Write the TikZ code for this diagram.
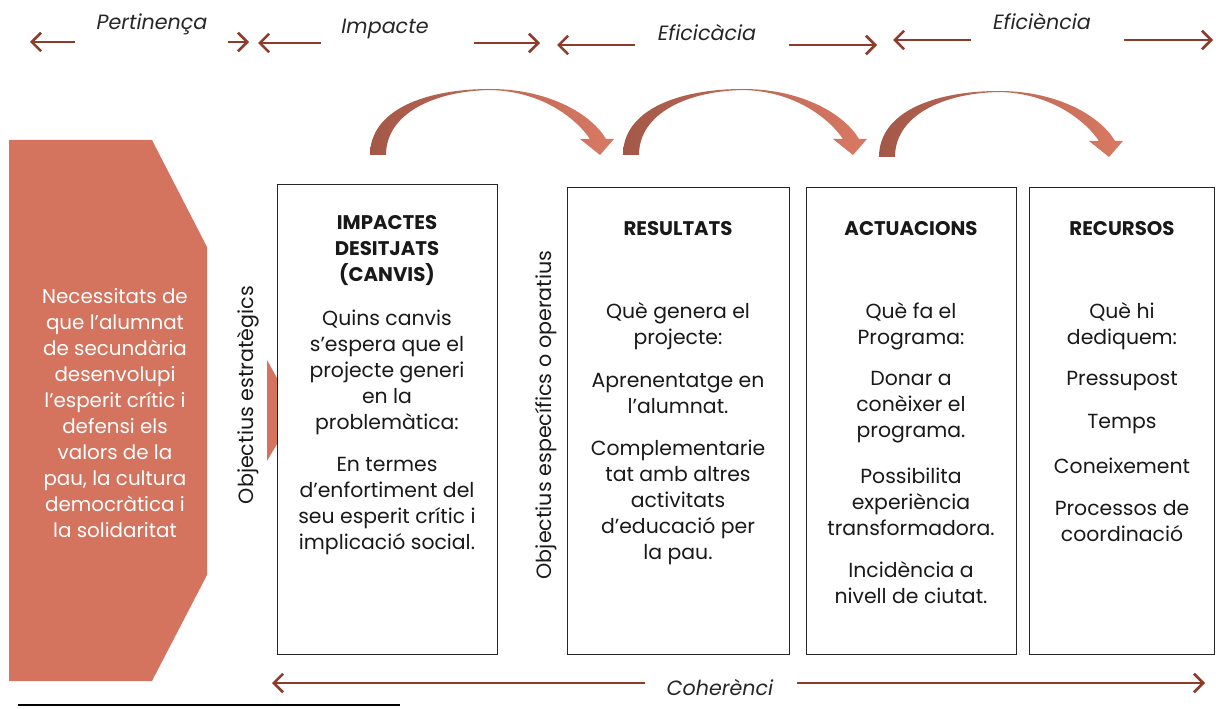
\documentclass[tikz,border=0pt]{standalone}
\usepackage{fontspec}
\setmainfont{Poppins}
\usetikzlibrary{arrows.meta,calc}
\definecolor{arrowred}{HTML}{8E3B2B}
\definecolor{salmon}{HTML}{D4735E}
\definecolor{arcdark}{HTML}{A35847}
\definecolor{arclight}{HTML}{D97963}
\tikzset{
  lbl/.style={font=\fontsize{15.5}{18}\selectfont\itshape, text=black!85, inner sep=0pt},
  harrow/.style={draw=arrowred, line width=1.9pt, -{Straight Barb[length=7pt,width=14pt]}},
  box/.style={draw=black!85, line width=0.9pt, fill=white, anchor=north west, inner sep=0pt},
  body/.style={font=\fontsize{15.3}{19.5}\selectfont, align=center, text=black!90, inner sep=0pt},
  headtxt/.style={body, font=\fontsize{14.8}{19.5}\selectfont\bfseries},
  vlabel/.style={body, rotate=90, font=\fontsize{15.5}{19.5}\selectfont},
  curvearrow/.style={left color=arcdark, right color=arclight, draw=none},
}
\newcommand{\mycurvedarrow}[2]{%
  \begin{scope}[shift={(#1,#2)}]
    \path[curvearrow] (0,0) .. controls (0,-45) and (55,-66) .. (120,-66)
      .. controls (180,-66) and (222,-40) .. (236,-16)
      -- (244,-16) -- (230,0) -- (210,-16) -- (220,-16)
      .. controls (205,-38) and (170,-64) .. (120,-65)
      .. controls (65,-64) and (16,-42) .. (16,0) -- cycle;
  \end{scope}}
\begin{document}
\begin{tikzpicture}[x=0.75pt,y=-0.75pt]
\useasboundingbox (0,0) rectangle (1216,709);

% left pentagon
\fill[salmon] (9,140) -- (152,140) -- (207,247) -- (207,575) -- (152,681) -- (9,681) -- cycle;
\node[body, text=white, font=\fontsize{14.9}{19.5}\selectfont] (need) at (115,413) {Necessitats de\\que l’alumnat\\de secundària\\desenvolupi\\l’esperit crític i\\defensi els\\valors de la\\pau, la cultura\\democràtica i\\la solidaritat};
\fill[salmon] (267,360) -- (277,378) -- (277,444) -- (267,461) -- cycle;

% boxes
\node[box, minimum width=165pt, minimum height=352.5pt] (b1) at (277,184) {};
\node[box, minimum width=166.5pt, minimum height=350.25pt] (b2) at (567,187) {};
\node[box, minimum width=157.5pt, minimum height=350.25pt] (b3) at (806,187) {};
\node[box, minimum width=138.75pt, minimum height=350.25pt] (b4) at (1029,187) {};

% vertical labels
\node[vlabel] (os) at (248,395) {Objectius estratègics};
\node[vlabel] (oe) at (546,415) {Objectius específics o operatius};

% box 1
\node[headtxt] (h1) at (387,251) {IMPACTES\\DESITJATS\\(CANVIS)};
\node[body] (t11) at (387,372) {Quins canvis\\s’espera que el\\projecte generi\\en la\\problemàtica:};
\node[body] (t12) at (387,506) {En termes\\d’enfortiment del\\seu esperit crític i\\implicació social.};

% box 2
\node[headtxt] (h2) at (678,229) {RESULTATS};
\node[body] (t21) at (678,326) {Què genera el\\projecte:};
\node[body] (t22) at (678,394) {Aprenentatge en\\l’alumnat.};
\node[body] (t23) at (678,502) {Complementarie\\tat amb altres\\activitats\\d’educació per\\la pau.};

% box 3
\node[headtxt] (h3) at (911,229) {ACTUACIONS};
\node[body] (t31) at (911,326) {Què fa el\\Programa:};
\node[body] (t32) at (911,407) {Donar a\\conèixer el\\programa.};
\node[body] (t33) at (911,502) {Possibilita\\experiència\\transformadora.};
\node[body] (t34) at (911,583) {Incidència a\\nivell de ciutat.};

% box 4
\node[headtxt] (h4) at (1122,229) {RECURSOS};
\node[body] (t41) at (1122,326) {Què hi\\dediquem:};
\node[body] (t42) at (1122,381) {Pressupost};
\node[body] (t43) at (1122,424) {Temps};
\node[body] (t44) at (1122,466) {Coneixement};
\node[body] (t45) at (1122,521) {Processos de\\coordinació};

% curved arrows
\mycurvedarrow{370}{155}
\mycurvedarrow{623}{155}
\mycurvedarrow{879}{157}

% top labels and arrows
\node[lbl] (lp) at (152,24) {Pertinença};
\node[lbl] (li) at (385,29) {Impacte};
\node[lbl] (lc) at (707,33) {Eficicàcia};
\node[lbl] (le) at (1042,22) {Eficiència};
\node[lbl] (lh) at (720,688) {Coherènci};

\coordinate (p1a) at (75,42);  \coordinate (p1b) at (30,42);
\coordinate (p2a) at (228,42); \coordinate (p2b) at (249,42);
\coordinate (i1a) at (321,43); \coordinate (i1b) at (258,43);
\coordinate (i2a) at (474,43); \coordinate (i2b) at (540,43);
\coordinate (c1a) at (635,45); \coordinate (c1b) at (557,45);
\coordinate (c2a) at (789,45); \coordinate (c2b) at (877,45);
\coordinate (e1a) at (971,40); \coordinate (e1b) at (893,40);
\coordinate (e2a) at (1124,40); \coordinate (e2b) at (1213,40);
\coordinate (h1a) at (645,683); \coordinate (h1b) at (272,683);
\coordinate (h2a) at (797,683); \coordinate (h2b) at (1205,683);
\foreach \s in {p1,p2,i1,i2,c1,c2,e1,e2,h1,h2}{
  \draw[harrow] (\s a) -- (\s b);
}

% footnote rule
\coordinate (fa) at (18,705); \coordinate (fb) at (400,705);
\draw[line width=1.6pt] (fa) -- (fb);
\end{tikzpicture}
\end{document}
